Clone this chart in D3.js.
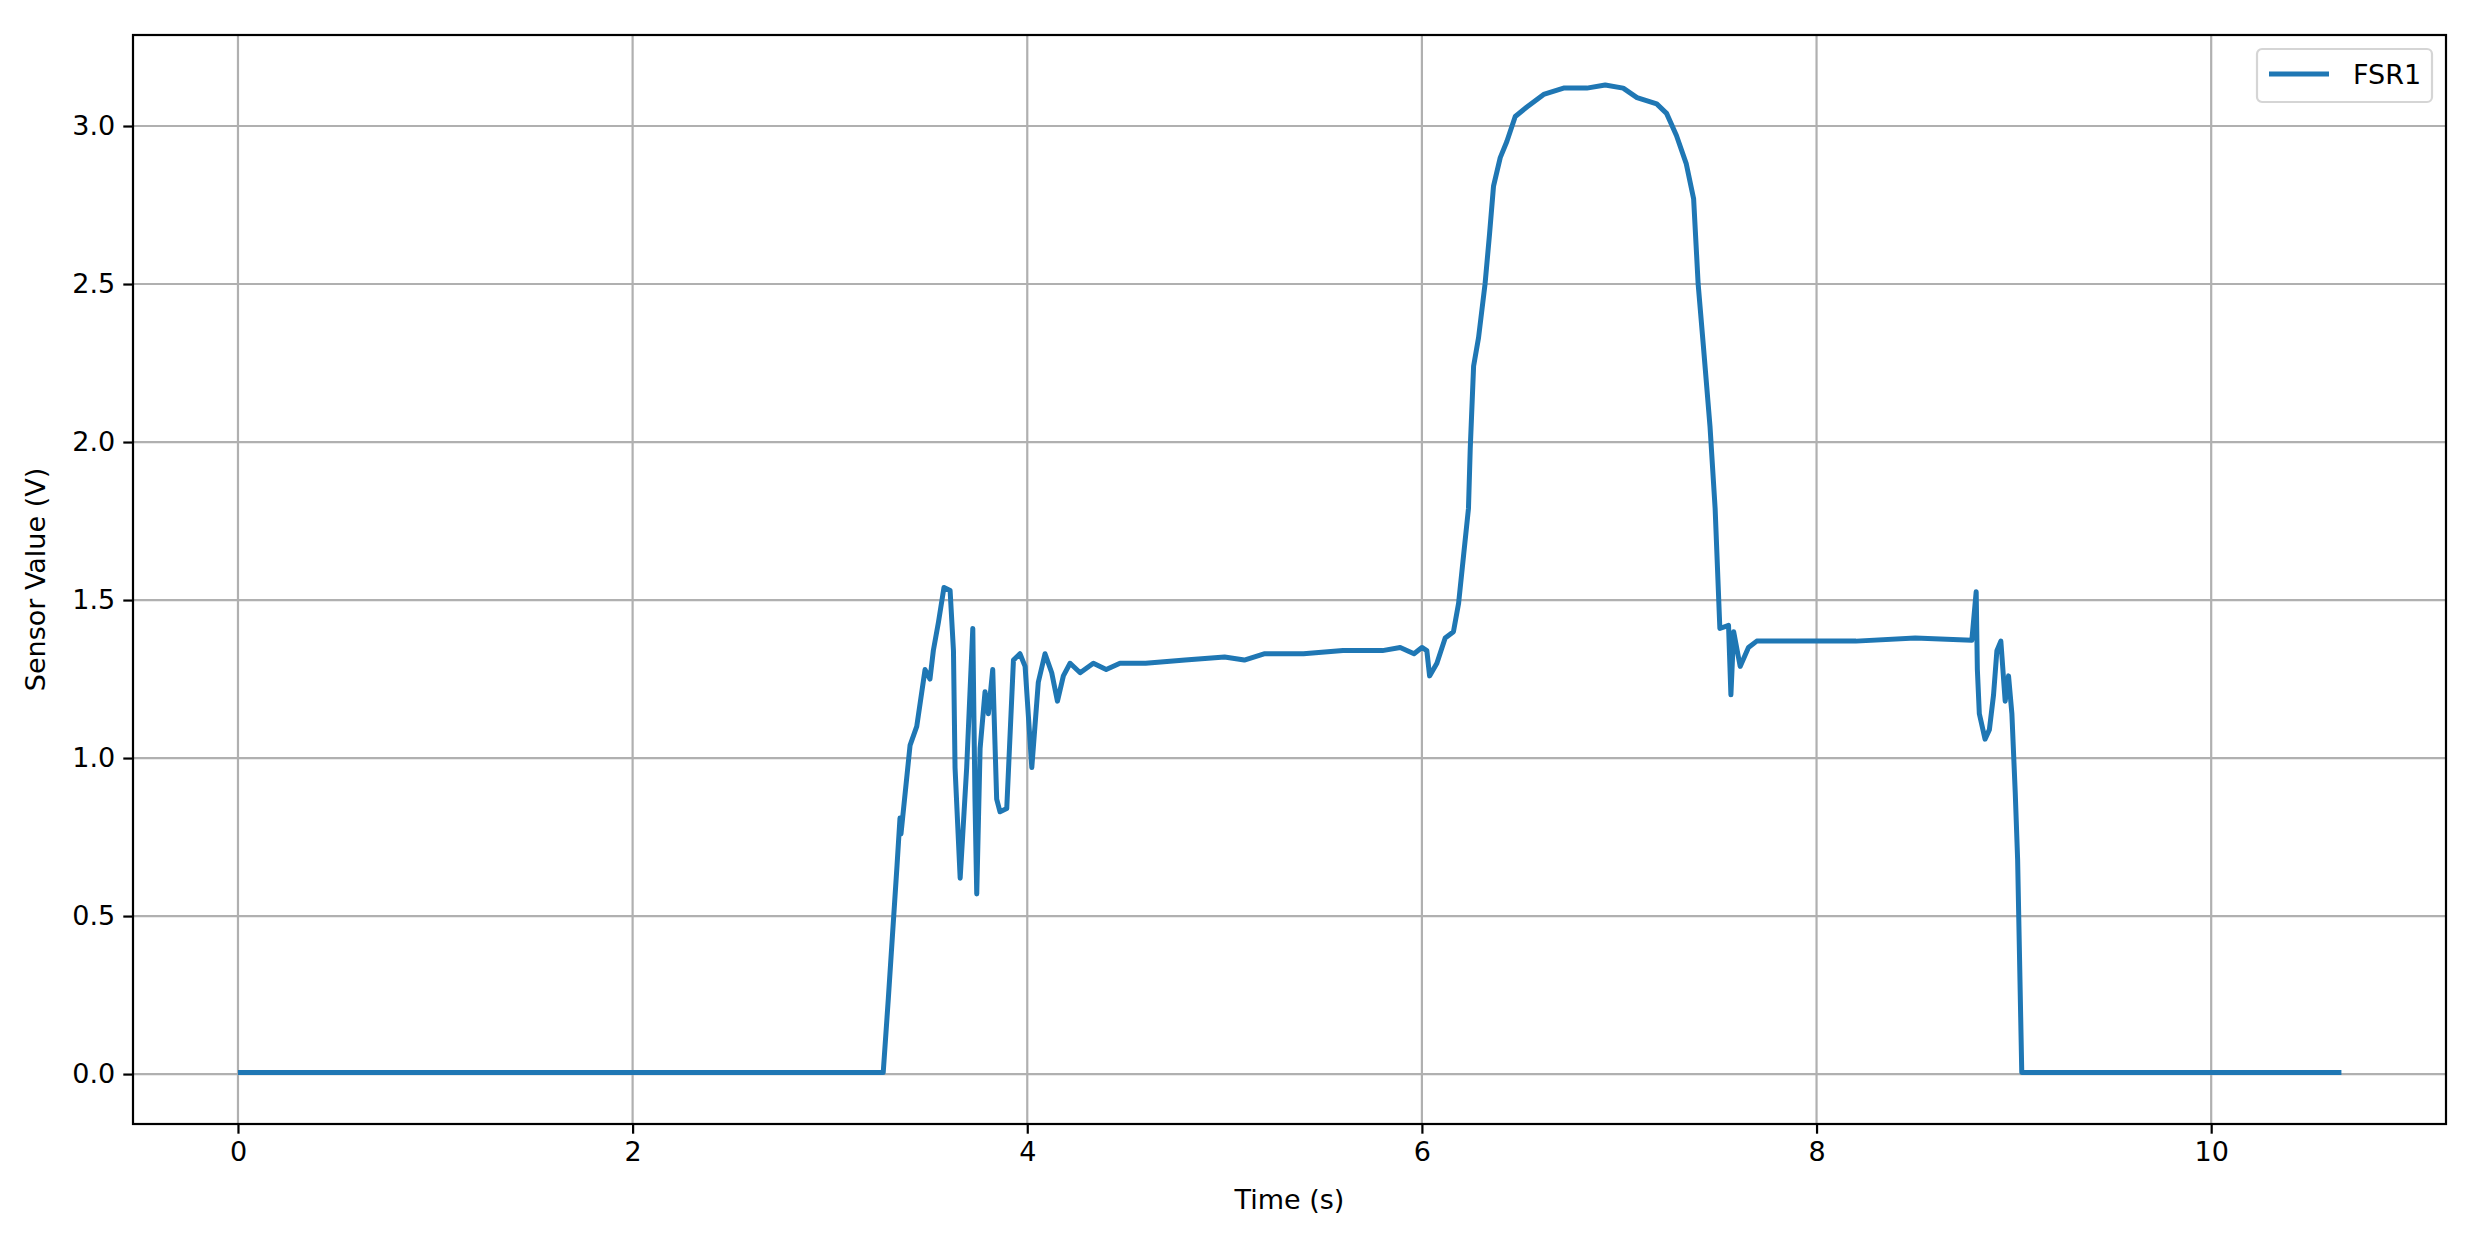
<!DOCTYPE html>
<html>
<head>
<meta charset="utf-8">
<script src="https://cdn.jsdelivr.net/npm/d3@7"></script>
<style>
  body { margin: 0; background: #fff; }
  text { font-family: "DejaVu Sans", sans-serif; }
</style>
</head>
<body>
<div id="chart"></div>
<script>
// FSR1 sensor trace
var times = [0, 3.27, 3.296, 3.34, 3.355, 3.36, 3.406, 3.44, 3.482, 3.507, 3.524, 3.55, 3.578, 3.609, 3.626, 3.634, 3.66, 3.693, 3.724, 3.735, 3.744, 3.761, 3.786, 3.803, 3.825, 3.845, 3.862, 3.896, 3.93, 3.963, 3.989, 4.023, 4.056, 4.09, 4.124, 4.153, 4.183, 4.217, 4.268, 4.335, 4.40, 4.47, 4.53, 4.6, 4.8, 5.0, 5.1, 5.2, 5.4, 5.6, 5.8, 5.89, 5.96, 6.0, 6.025, 6.039, 6.076, 6.118, 6.16, 6.186, 6.211, 6.236, 6.245, 6.262, 6.287, 6.32, 6.343, 6.363, 6.397, 6.43, 6.473, 6.532, 6.617, 6.718, 6.836, 6.929, 7.02, 7.09, 7.19, 7.24, 7.29, 7.34, 7.377, 7.40, 7.427, 7.46, 7.486, 7.51, 7.554, 7.566, 7.58, 7.613, 7.655, 7.697, 7.816, 8.2, 8.5, 8.787, 8.809, 8.815, 8.825, 8.854, 8.876, 8.897, 8.914, 8.934, 8.956, 8.973, 8.99, 9.007, 9.019, 9.029, 9.04, 10.66];
var fsr1 = [0.005, 0.005, 0.24, 0.66, 0.81, 0.76, 1.04, 1.10, 1.28, 1.25, 1.34, 1.43, 1.54, 1.53, 1.34, 0.97, 0.62, 0.97, 1.41, 0.87, 0.57, 1.03, 1.21, 1.14, 1.28, 0.87, 0.83, 0.84, 1.31, 1.33, 1.29, 0.97, 1.24, 1.33, 1.27, 1.18, 1.26, 1.30, 1.27, 1.30, 1.28, 1.30, 1.30, 1.30, 1.31, 1.32, 1.31, 1.33, 1.33, 1.34, 1.34, 1.35, 1.33, 1.35, 1.34, 1.26, 1.30, 1.38, 1.40, 1.49, 1.64, 1.79, 1.98, 2.24, 2.33, 2.50, 2.66, 2.81, 2.90, 2.95, 3.03, 3.06, 3.10, 3.12, 3.12, 3.13, 3.12, 3.09, 3.07, 3.04, 2.97, 2.88, 2.77, 2.50, 2.30, 2.05, 1.79, 1.41, 1.42, 1.20, 1.40, 1.29, 1.35, 1.37, 1.37, 1.37, 1.38, 1.373, 1.526, 1.28, 1.14, 1.06, 1.09, 1.20, 1.34, 1.37, 1.18, 1.26, 1.14, 0.89, 0.68, 0.36, 0.005, 0.005];
var xTicks = [0, 2, 4, 6, 8, 10];
var yTicks = [0.0, 0.5, 1.0, 1.5, 2.0, 2.5, 3.0];
var data = times.map(function(t, i) { return {t: t, v: fsr1[i]}; });

var width = 2477, height = 1233;
var margin = {top: 35, right: 31, bottom: 109, left: 133};
var plotW = width - margin.left - margin.right;
var plotH = height - margin.top - margin.bottom;

var x = d3.scaleLinear().domain([-0.532, 11.19]).range([0, plotW]);
var y = d3.scaleLinear().domain([-0.158, 3.288]).range([plotH, 0]);

var svg = d3.select("#chart").append("svg")
  .attr("width", width)
  .attr("height", height)
  .append("g")
  .attr("transform", "translate(" + margin.left + "," + margin.top + ")");

// grid
svg.selectAll(".gx").data(xTicks).enter().append("line")
  .attr("x1", function(d) { return x(d); }).attr("x2", function(d) { return x(d); })
  .attr("y1", 0).attr("y2", plotH)
  .style("stroke", "#b0b0b0").style("stroke-width", 2.2);
svg.selectAll(".gy").data(yTicks).enter().append("line")
  .attr("y1", function(d) { return y(d); }).attr("y2", function(d) { return y(d); })
  .attr("x1", 0).attr("x2", plotW)
  .style("stroke", "#b0b0b0").style("stroke-width", 2.2);

// the line
var line = d3.line()
  .x(function(d) { return x(d.t); })
  .y(function(d) { return y(d.v); });
svg.append("path")
  .datum(data)
  .attr("d", line)
  .style("fill", "none")
  .style("stroke", "#1f77b4")
  .style("stroke-width", 5)
  .style("stroke-linejoin", "round");

// axes
var xAxis = svg.append("g")
  .attr("transform", "translate(0," + plotH + ")")
  .call(d3.axisBottom(x).tickValues(xTicks).tickFormat(d3.format("d")).tickSize(9.7).tickPadding(8));
var yAxis = svg.append("g")
  .call(d3.axisLeft(y).tickValues(yTicks).tickFormat(d3.format(".1f")).tickSize(9.7).tickPadding(8));
[xAxis, yAxis].forEach(function(a) {
  a.select(".domain").remove();
  a.selectAll(".tick line").style("stroke", "#000").style("stroke-width", 2.2);
  a.selectAll(".tick text").style("font-size", "27px").style("font-family", "DejaVu Sans").attr("fill", "#000");
});

// frame
svg.append("rect")
  .attr("width", plotW).attr("height", plotH)
  .style("fill", "none").style("stroke", "#000").style("stroke-width", 2.2);

// axis labels
svg.append("text")
  .attr("x", plotW / 2).attr("y", plotH + 85)
  .attr("text-anchor", "middle")
  .style("font-size", "27px")
  .text("Time (s)");
svg.append("text")
  .attr("transform", "translate(" + (-88) + "," + (plotH / 2) + ") rotate(-90)")
  .attr("text-anchor", "middle")
  .style("font-size", "27px")
  .text("Sensor Value (V)");

// legend
var lg = svg.append("g").attr("transform", "translate(" + (plotW - 189) + ",14)");
lg.append("rect")
  .attr("width", 175).attr("height", 53).attr("rx", 5)
  .style("fill", "#fff").style("stroke", "#d5d5d5").style("stroke-width", 2.2);
lg.append("line")
  .attr("x1", 12).attr("x2", 72).attr("y1", 25).attr("y2", 25)
  .style("stroke", "#1f77b4").style("stroke-width", 5);
lg.append("text")
  .attr("x", 96).attr("y", 35)
  .style("font-size", "27px")
  .text("FSR1");
</script>
</body>
</html>
